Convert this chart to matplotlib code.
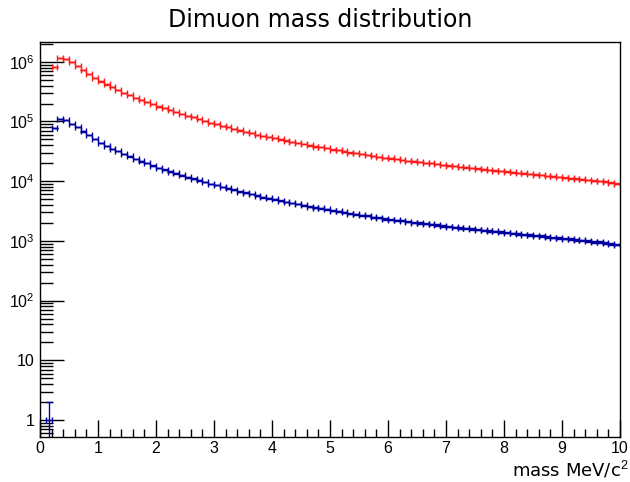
import matplotlib.pyplot as plt
import numpy as np

plt.rcParams['mathtext.fontset'] = 'custom'
plt.rcParams['mathtext.rm'] = 'Liberation Sans'
plt.rcParams['mathtext.it'] = 'Liberation Sans'

titleFont = {'family': 'DejaVu Sans', 'size': 17}
labelFont = {'family': 'DejaVu Sans', 'size': 13}
tickSize = 11.5

# 100 bins, 0 - 10 MeV/c^2
edges = np.linspace(0, 10, 101)

red_counts = [0, 0, 832000, 1175000, 1122000, 977000, 851000, 724000, 631000, 537000,
              468000, 417000, 372000, 339000, 302000, 275000, 251000, 229000, 214000, 195000,
              178000, 166000, 155000, 145000, 132000, 123000, 117000, 110000, 102000, 95500,
              91200, 85100, 81300, 75900, 70800, 67600, 64600, 60300, 57500, 55000,
              52500, 50100, 47900, 45700, 43700, 41700, 39800, 38000, 37200, 35500,
              33900, 33100, 31600, 30200, 29500, 28200, 27500, 26300, 25700, 24500,
              24000, 23400, 22900, 21900, 21400, 20900, 20400, 20000, 19500, 18600,
              18200, 17800, 17400, 17000, 16600, 16200, 15800, 15500, 15100, 14800,
              14500, 14100, 13800, 13500, 13200, 12900, 12600, 12300, 12000, 11700,
              11500, 11200, 11000, 10700, 10500, 10200, 10000, 9800, 9500, 9100]

blue_counts = [0, 1, 79000, 110000, 106000, 92000, 80000, 68000, 59000, 50500,
               44000, 39000, 35000, 32000, 28500, 26000, 23500, 21500, 20000, 18300,
               16800, 15600, 14500, 13500, 12500, 11600, 11000, 10300, 9700, 9000,
               8600, 8000, 7600, 7200, 6700, 6400, 6100, 5700, 5400, 5200,
               4950, 4750, 4500, 4300, 4150, 3950, 3750, 3600, 3520, 3380,
               3220, 3130, 3000, 2870, 2800, 2680, 2620, 2500, 2440, 2330,
               2280, 2220, 2180, 2080, 2030, 1990, 1940, 1900, 1850, 1770,
               1730, 1690, 1650, 1620, 1580, 1540, 1500, 1470, 1440, 1410,
               1380, 1340, 1310, 1280, 1250, 1230, 1200, 1170, 1140, 1110,
               1090, 1070, 1040, 1020, 1000, 970, 950, 930, 900, 870]

xtick_vals = list(range(11))
ytick_vals = [1, 10, 100, 1e3, 1e4, 1e5, 1e6]
ytick_labels = ['1', '10', '$10^{2}$', '$10^{3}$', '$10^{4}$', '$10^{5}$', '$10^{6}$']

fig = plt.figure(figsize=(6.3, 4.82), dpi=100)
ax = fig.add_axes([0.0635, 0.0934, 0.9205, 0.8196])

centers = (edges[:-1] + edges[1:]) / 2
half = np.diff(edges) / 2


def draw_hist(counts, color):
    c = np.array(counts, dtype=float)
    m = c > 0
    ax.errorbar(centers[m], c[m], xerr=half[m], yerr=np.sqrt(c[m]), fmt='none',
                ecolor=color, elinewidth=1, capsize=2.5, capthick=1)


draw_hist(red_counts, '#ff1a1a')
draw_hist(blue_counts, '#0000a0')

ax.set_yscale('log')
ax.set_xlim(0, 10)
ax.set_ylim(0.52, 2.15e6)
ax.set_xticks(xtick_vals)
ax.set_xticklabels([str(v) for v in xtick_vals], family='Liberation Sans')
ax.set_xticks(np.arange(0, 10.01, 0.2), minor=True)
ax.set_yticks(ytick_vals)
ax.set_yticklabels(ytick_labels, family='Liberation Sans')
ax.tick_params(axis='both', which='both', direction='in', labelsize=tickSize, width=1)
ax.tick_params(axis='y', which='major', length=17, pad=4)
ax.tick_params(axis='y', which='minor', length=9)
ax.tick_params(axis='x', which='major', length=12, pad=3)
ax.tick_params(axis='x', which='minor', length=6)
for s in ax.spines.values():
    s.set_linewidth(1)

fig.text(0.508, 0.958, 'Dimuon mass distribution', fontdict=titleFont,
         ha='center', va='center')
fig.text(0.998, 0.012, 'mass MeV/c$^{2}$', fontdict=labelFont, ha='right', va='baseline')

fig.savefig('out.png', dpi=100)
